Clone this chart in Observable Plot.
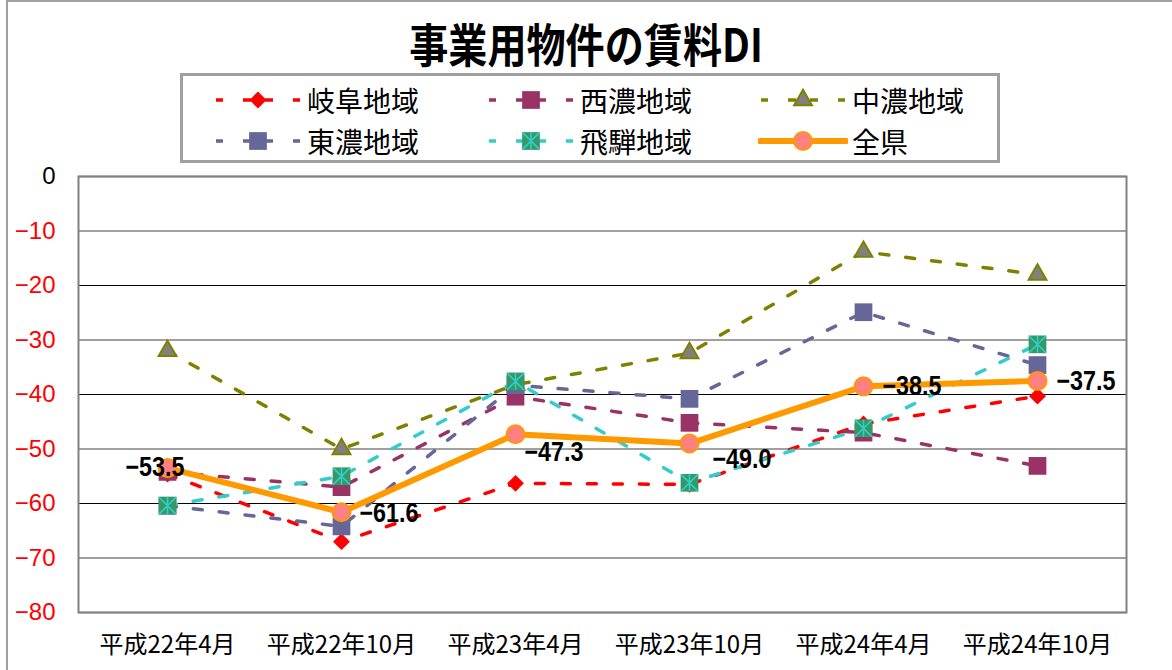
<!DOCTYPE html>
<html>
<head>
<meta charset="utf-8">
<script src="https://cdn.jsdelivr.net/npm/d3@7"></script>
<script src="https://cdn.jsdelivr.net/npm/@observablehq/plot@0.6"></script>
<style>
  html, body { margin: 0; padding: 0; background: #fff; }
  #wrap { position: relative; width: 1172px; height: 670px; overflow: hidden; background: #fff; font-family: "Noto Sans CJK JP", sans-serif; }
  #outer { position: absolute; left: 6px; top: 0px; width: 1300px; height: 800px; border-left: 2px solid #a0a0a0; border-top: 2px solid #a0a0a0; }
  #chart { position: absolute; left: 0; top: 0; }
  #title { position: absolute; left: 0; top: 18px; width: 1172px; text-align: center; font-size: 46px; line-height: 48px; font-weight: bold; color: #000; transform: scaleX(0.85); }
  #legend { position: absolute; left: 180px; top: 73px; width: 814px; height: 84px; border: 3px solid #a0a0a0; background: #fff; }
  .item { position: absolute; display: flex; align-items: center; height: 34px; }
  .item span { font-size: 28px; line-height: 34px; margin-left: 4px; color: #000; }
</style>
</head>
<body>
<div id="wrap">
  <div id="outer"></div>
  <div id="chart"></div>
  <div id="title">事業用物件の賃料DI</div>
  <div id="legend"></div>
</div>
<script>
// ---- data ----
const periods = ["平成22年4月", "平成22年10月", "平成23年4月", "平成23年10月", "平成24年4月", "平成24年10月"];
const seriesNames = ["岐阜地域", "西濃地域", "中濃地域", "東濃地域", "飛騨地域", "全県"];
const gifu   = [-54.6, -67.0, -56.3, -56.5, -45.4, -40.3];
const seino  = [-54.2, -57.0, -40.4, -45.2, -47.0, -53.1];
const chuno  = [-32.0, -50.0, -38.2, -32.4, -13.8, -18.0];
const tono   = [-60.4, -64.2, -38.3, -40.8, -24.9, -34.6];
const hida   = [-60.4, -55.0, -37.6, -56.2, -46.2, -30.8];
const zenken = [-53.5, -61.6, -47.3, -49.0, -38.5, -37.5];
const yTicks = [0, -10, -20, -30, -40, -50, -60, -70, -80];

// ---- styles ----
const asteriskBox = {
  draw(ctx, size) {
    const h = Math.sqrt(size) / 2;
    ctx.moveTo(-h, -h); ctx.lineTo(h, h);
    ctx.moveTo(-h, h); ctx.lineTo(h, -h);
    ctx.moveTo(0, -h); ctx.lineTo(0, h);
  }
};
const styles = [
  {line: "#FF0000", dash: "9,17", width: 3.5, symbol: "diamond2", r: 7.6, fill: "#FF0000", stroke: "none"},
  {line: "#993366", dash: "9,17", width: 3.5, symbol: "square", r: 10, fill: "#993366", stroke: "none"},
  {line: "#808000", dash: "9,17", width: 3.5, symbol: "triangle", r: 6.6, fill: "#808080", stroke: "#808000", sw: 2},
  {line: "#666699", dash: "9,17", width: 3.5, symbol: "square", r: 10, fill: "#666699", stroke: "none"},
  {line: "#33CCCC", dash: "9,17", width: 3.5, symbol: "square", r: 10, fill: "#339966", stroke: "none", overlay: true},
  {line: "#FF9900", dash: null, width: 6, symbol: "circle", r: 9, fill: "#FF8080", stroke: "#FF9900", sw: 2}
];
const seriesValues = [gifu, seino, chuno, tono, hida, zenken];
const labelOffsets = [[-42, -1], [18, 1], [9, 18], [23, 16], [19, 0], [19, 0]];
const numFont = '"Liberation Sans", Arial, sans-serif';
const minusFmt = d => d < 0 ? "\u2212" + Math.abs(d) : String(d);
const minusFmt1 = d => d < 0 ? "\u2212" + Math.abs(d).toFixed(1) : d.toFixed(1);

const rowsOf = vals => vals.map((v, i) => ({period: periods[i], value: v}));

const marks = [];
// gridlines
marks.push(Plot.ruleY([0, -10, -30, -50, -70, -80], {stroke: "#808080", strokeWidth: 1.5}));
marks.push(Plot.ruleY([-20, -40, -60], {stroke: "#000000", strokeWidth: 1}));
marks.push(Plot.frame({stroke: "#808080", strokeWidth: 2}));
// axes
marks.push(Plot.axisX({tickSize: 0, tickPadding: 23, fontSize: 24, fill: "#000", fontFamily: "Noto Sans CJK JP"}));
marks.push(Plot.axisY({ticks: [0], tickSize: 0, tickPadding: 23, fontSize: 24, fill: "#000", tickFormat: minusFmt, fontFamily: numFont}));
marks.push(Plot.axisY({ticks: yTicks.filter(t => t < 0), tickSize: 0, tickPadding: 23, fontSize: 24, fill: "#FF0000", tickFormat: minusFmt, fontFamily: numFont}));

seriesValues.forEach((vals, k) => {
  const s = styles[k];
  const rows = rowsOf(vals);
  marks.push(Plot.line(rows, {x: "period", y: "value", stroke: s.line, strokeWidth: s.width, strokeDasharray: s.dash || undefined, strokeLinejoin: "round", curve: "linear"}));
  marks.push(Plot.dot(rows, {x: "period", y: "value", symbol: s.symbol, r: s.r, fill: s.fill, stroke: s.stroke, strokeWidth: s.sw || 0}));
  if (s.overlay) {
    marks.push(Plot.dot(rows, {x: "period", y: "value", symbol: asteriskBox, r: s.r * 0.95, fill: "none", stroke: s.line, strokeWidth: 1.6}));
  }
});

// data labels for 全県
zenken.forEach((v, i) => {
  marks.push(Plot.text([i], {
    x: d => periods[d], y: d => zenken[d], text: d => minusFmt1(zenken[d]),
    dx: labelOffsets[i][0], dy: labelOffsets[i][1], textAnchor: "start",
    fontSize: 27, fontWeight: "bold", fill: "#000", fontFamily: numFont,
    className: "dlabel"
  }));
});

const chart = Plot.plot({
  width: 1172,
  height: 670,
  marginLeft: 78,
  marginRight: 46,
  marginTop: 176,
  marginBottom: 58,
  style: {background: "transparent", fontFamily: "Noto Sans CJK JP", overflow: "visible"},
  x: {type: "point", domain: periods, padding: 0.5, label: null},
  y: {domain: [-80, 0], label: null},
  marks
});
// condense data labels to the narrow look of the original
d3.select(chart).selectAll(".dlabel text")
  .attr("textLength", 59).attr("lengthAdjust", "spacingAndGlyphs");
document.getElementById("chart").appendChild(chart);

// ---- legend ----
const legend = d3.select("#legend");
const colX = [30, 303, 575];
const rowY = [7, 48];
seriesNames.forEach((name, k) => {
  const s = styles[k];
  const item = legend.append("div").attr("class", "item")
    .style("left", colX[k % 3] + "px").style("top", rowY[Math.floor(k / 3)] + "px");
  const svg = item.append("svg").attr("width", 90).attr("height", 34);
  if (s.dash) {
    svg.append("path").attr("d", "M3,17H10M30,17H38M52,17H60M80,17H87")
      .attr("stroke", s.line).attr("stroke-width", 3.5).attr("fill", "none");
  } else {
    svg.append("path").attr("d", "M2,17H88").attr("stroke", s.line).attr("stroke-width", 6)
      .attr("stroke-linecap", "round").attr("fill", "none");
  }
  const symMap = {diamond2: d3.symbolDiamond2, square: d3.symbolSquare, triangle: d3.symbolTriangle, circle: d3.symbolCircle};
  const size = Math.PI * s.r * s.r;
  svg.append("path").attr("transform", "translate(45,17)")
    .attr("d", d3.symbol(symMap[s.symbol], size)())
    .attr("fill", s.fill).attr("stroke", s.stroke).attr("stroke-width", s.sw || 0);
  if (s.overlay) {
    svg.append("path").attr("transform", "translate(45,17)")
      .attr("d", d3.symbol(asteriskBox, size * 0.9)())
      .attr("fill", "none").attr("stroke", s.line).attr("stroke-width", 1.6);
  }
  item.append("span").text(name);
});
</script>
</body>
</html>
